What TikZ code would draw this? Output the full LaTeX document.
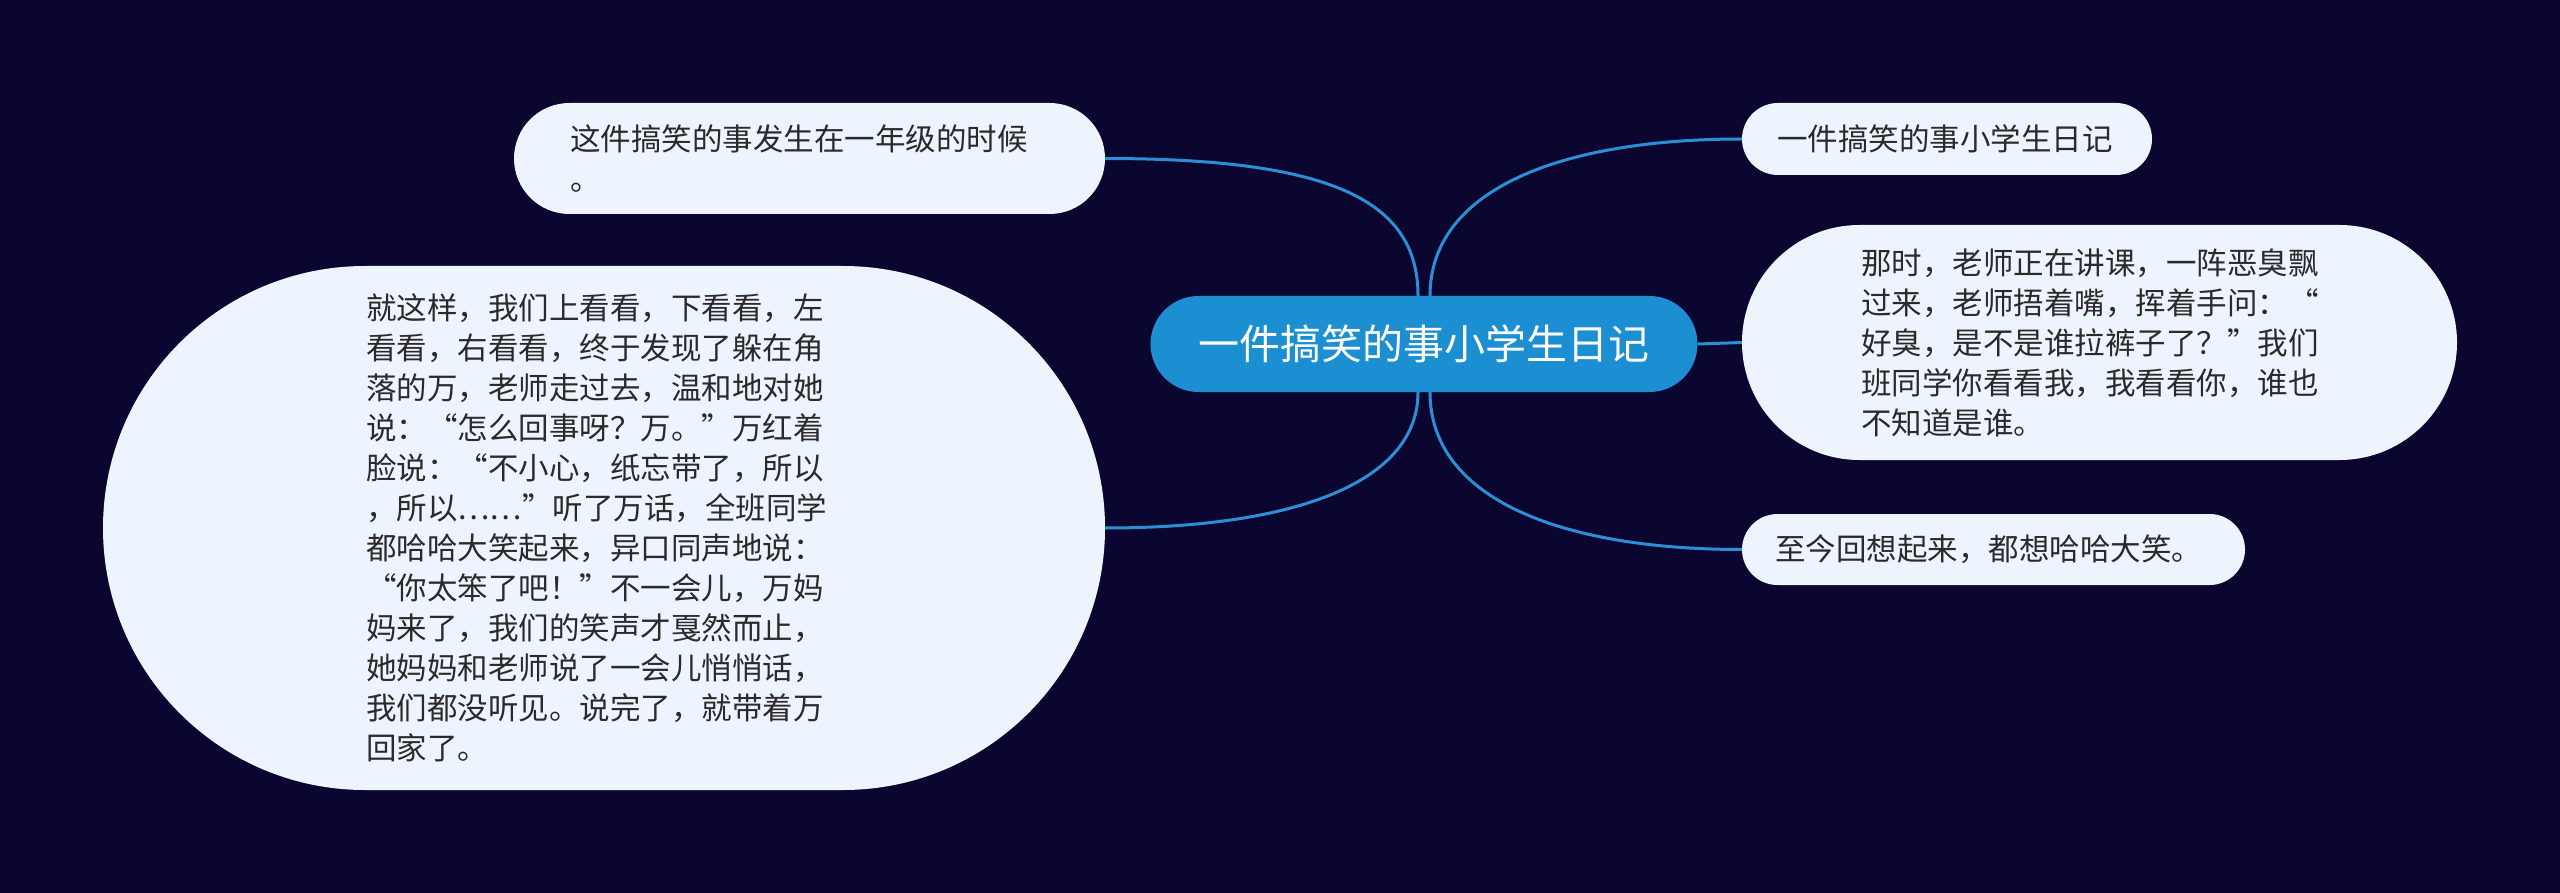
\documentclass[tikz,border=0pt]{standalone}
\usepackage{fontspec}
\setmainfont{Noto Sans CJK SC}
\definecolor{bgc}{HTML}{0A0630}
\definecolor{rootc}{HTML}{1B8FD2}
\definecolor{linec}{HTML}{2B8FD3}
\definecolor{leafc}{HTML}{EEF4FE}
\definecolor{txtc}{HTML}{2A2A2A}
\tikzset{
  leaf/.style={draw=none, fill=leafc, text=txtc, align=left, inner sep=0pt,
    font=\fontsize{30.5}{40}\selectfont},
  rootbox/.style={fill=rootc, text=white, inner sep=0pt, minimum width=547pt,
    minimum height=96pt, rounded corners=48pt, font=\fontsize{41}{48}\selectfont},
  link/.style={draw=linec, line width=3pt}
}
\begin{document}
\begin{tikzpicture}[x=1pt,y=-1pt]
\fill[bgc] (0,0) rectangle (2560,893);
\useasboundingbox (0,0) rectangle (2560,893);

\node[rootbox] (root) at (1424,344) {一件搞笑的事小学生日记};

\node[leaf, text width=479pt, minimum width=591pt, minimum height=111pt, rounded corners=55.5pt] (n1) at (809.5,158.5)
  {这件搞笑的事发生在一年级的时候\\。};

\node[leaf, text width=476pt, minimum width=1002pt, minimum height=524pt, rounded corners=262pt] (n2) at (604,528)
  {就这样，我们上看看，下看看，左\\看看，右看看，终于发现了躲在角\\落的万，老师走过去，温和地对她\\说：“怎么回事呀？万。”万红着\\脸说：“不小心，纸忘带了，所以\\，所以……”听了万话，全班同学\\都哈哈大笑起来，异口同声地说：\\“你太笨了吧！”不一会儿，万妈\\妈来了，我们的笑声才戛然而止，\\她妈妈和老师说了一会儿悄悄话，\\我们都没听见。说完了，就带着万\\回家了。};

\node[leaf, text width=340pt, minimum width=410pt, minimum height=72pt, rounded corners=36pt] (n3) at (1947,139)
  {一件搞笑的事小学生日记};

\node[leaf, text width=477pt, minimum width=715pt, minimum height=235pt, rounded corners=117.5pt] (n4) at (2099.5,342.5)
  {那时，老师正在讲课，一阵恶臭飘\\过来，老师捂着嘴，挥着手问：“\\好臭，是不是谁拉裤子了？”我们\\班同学你看看我，我看看你，谁也\\不知道是谁。};

\node[leaf, text width=437pt, minimum width=503pt, minimum height=71pt, rounded corners=35.5pt] (n5) at (1993.5,549.5)
  {至今回想起来，都想哈哈大笑。};

\draw[link] (n1.east) .. controls +(225,0) and +(0,-96) .. ([xshift=-6pt]root.north);
\draw[link] (n2.east) .. controls +(195,0) and +(0,88) .. ([xshift=-6pt]root.south);
\draw[link] ([xshift=6pt]root.north) .. controls +(0,-106) and +(-182,0) .. (n3.west);
\draw[link] ([xshift=6pt]root.south) .. controls +(0,106) and +(-182,0) .. (n5.west);
\draw[link] (root.east) -- (n4.west);
\end{tikzpicture}
\end{document}
